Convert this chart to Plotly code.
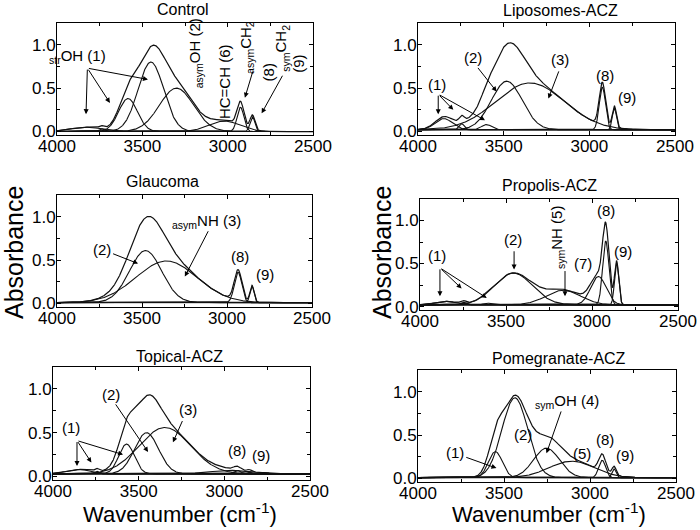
import numpy as np
import plotly.graph_objects as go

# ---------------- data (peak fits) ----------------
titles = ["Control", "Liposomes-ACZ", "Glaucoma", "Propolis-ACZ", "Topical-ACZ", "Pomegranate-ACZ"]

control_centers = [3830, 3740, 3584, 3450, 3300, 3020, 2925, 2855]
control_heights = [0.05, 0.03, 0.38, 0.80, 0.50, 0.12, 0.28, 0.17]
control_sigmas = [90, 15, 55, 75, 100, 90, 20, 14]

lipo_centers = [3850, 3745, 3600, 3482, 3346, 2924, 2854]
lipo_heights = [0.13, 0.07, 0.06, 0.56, 0.54, 0.49, 0.25]
lipo_sigmas = [50, 15, 30, 90, 200, 18, 12]

glau_centers = [3479, 3356, 2935, 2853]
glau_heights = [0.60, 0.48, 0.35, 0.19]
glau_sigmas = [95, 180, 22, 12]

prop_centers = [3850, 3750, 3610, 3457, 3167, 2963, 2920, 2857]
prop_heights = [0.04, 0.03, 0.02, 0.37, 0.17, 0.33, 0.74, 0.49]
prop_sigmas = [60, 15, 25, 110, 100, 45, 18, 12]

top_centers = [3850, 3745, 3571, 3454, 3347, 2960, 2925, 2855]
top_heights = [0.05, 0.03, 0.34, 0.47, 0.53, 0.04, 0.04, 0.02]
top_sigmas = [70, 12, 45, 70, 150, 120, 20, 12]

pome_centers = [3550, 3437, 3253, 3107, 2929, 2860]
pome_heights = [0.30, 0.92, 0.34, 0.19, 0.20, 0.10]
pome_sigmas = [40, 75, 75, 130, 20, 12]

baselines = [0.0, 0.02, 0.01, 0.02, 0.03, 0.01]

x_ticks = [4000, 3500, 3000, 2500]
y_ticks = [0.0, 0.5, 1.0]

panels = [
    (control_centers, control_heights, control_sigmas),
    (lipo_centers, lipo_heights, lipo_sigmas),
    (glau_centers, glau_heights, glau_sigmas),
    (prop_centers, prop_heights, prop_sigmas),
    (top_centers, top_heights, top_sigmas),
    (pome_centers, pome_heights, pome_sigmas),
]

# ---------------- layout geometry (pixels in 700x530) ----------------
W, H = 700, 530
boxes = [  # x0, x1, y_top, y_bottom
    (57, 313, 23, 135),
    (418, 675, 23, 135),
    (57, 312, 195, 307),
    (420, 678, 199, 310),
    (53, 310, 367, 480),
    (418, 676, 370, 482),
]

FONT = "Liberation Sans, Arial, sans-serif"
wn = np.linspace(4000, 2500, 1201)

fig = go.Figure()
layout = {}
for i, ((cs, hs, ss), base, box) in enumerate(zip(panels, baselines, boxes)):
    n = i + 1
    xa = "x" if n == 1 else f"x{n}"
    ya = "y" if n == 1 else f"y{n}"
    comps = [h * np.exp(-((wn - c) ** 2) / (2 * s ** 2)) for c, h, s in zip(cs, hs, ss)]
    total = base + np.sum(comps, axis=0)
    fig.add_trace(go.Scatter(x=wn, y=np.full_like(wn, base), mode="lines",
                             line=dict(color="black", width=1.0), xaxis=xa, yaxis=ya,
                             showlegend=False, hoverinfo="skip"))
    for comp in comps:
        fig.add_trace(go.Scatter(x=wn, y=base + comp, mode="lines",
                                 line=dict(color="#111111", width=1.1), xaxis=xa, yaxis=ya,
                                 showlegend=False))
    fig.add_trace(go.Scatter(x=wn, y=total, mode="lines",
                             line=dict(color="#111111", width=1.2), xaxis=xa, yaxis=ya,
                             showlegend=False))
    x0, x1, yt, yb = box
    axkey = "xaxis" if n == 1 else f"xaxis{n}"
    aykey = "yaxis" if n == 1 else f"yaxis{n}"
    layout[axkey] = dict(
        domain=[x0 / W, x1 / W], range=[4000, 2500], anchor=ya, automargin=False,
        tickvals=x_ticks, ticks="inside", ticklen=4, tickwidth=1, tickcolor="black",
        showline=True, linecolor="black", linewidth=1, mirror="ticks",
        showgrid=False, zeroline=False, ticklabelstandoff=-4,
        tickfont=dict(family=FONT, size=17, color="black"),
        minor=dict(ticks="inside", dtick=250, tick0=4000, ticklen=3, tickcolor="black", showgrid=False),
    )
    layout[aykey] = dict(
        domain=[1 - yb / H, 1 - yt / H], range=[-0.04, 1.25], anchor=xa, automargin=False,
        tickvals=y_ticks, ticktext=["0.0", "0.5", "1.0"], ticks="inside", ticklen=4,
        tickwidth=1, tickcolor="black", ticklabelstandoff=-3,
        showline=True, linecolor="black", linewidth=1, mirror="ticks",
        showgrid=False, zeroline=False,
        tickfont=dict(family=FONT, size=17, color="black"),
        minor=dict(ticks="inside", dtick=0.25, tick0=0, ticklen=3, tickcolor="black", showgrid=False),
    )

annotations = []
# panel titles
title_pos = [(183, 10), (560, 11), (162, 182), (549, 185), (180, 356), (559, 358)]
for t, (px, py) in zip(titles, title_pos):
    annotations.append(dict(text=t, x=px / W, y=1 - py / H, xref="paper", yref="paper",
                            showarrow=False, font=dict(family=FONT, size=16, color="black"),
                            xanchor="center", yanchor="middle"))
# axis titles
for px in (14, 382):
    annotations.append(dict(text="Absorbance", x=px / W, y=1 - 253 / H, xref="paper", yref="paper",
                            showarrow=False, textangle=-90,
                            font=dict(family=FONT, size=25, color="black"),
                            xanchor="center", yanchor="middle"))
for px in (180, 549):
    annotations.append(dict(text="Wavenumber (cm<sup>-1</sup>)", x=px / W, y=1 - 513 / H,
                            xref="paper", yref="paper", showarrow=False,
                            font=dict(family=FONT, size=22, color="black"),
                            xanchor="center", yanchor="middle"))

# labels: (panel, text, x, y, angle)
labels = [
    (1, "<sub>str</sub>OH (1)", 3880, 0.86, 0),
    (1, "<sub>asym</sub>OH (2)", 3192, 0.90, -90),
    (1, "HC=CH (6)", 3022, 0.58, -90),
    (1, "<sub>asym</sub>CH<sub>2</sub>", 2889, 0.97, -90),
    (1, "(8)", 2758, 0.68, -90),
    (1, "<sub>sym</sub>CH<sub>2</sub>", 2684, 0.96, -90),
    (1, "(9)", 2582, 0.78, -90),
    (2, "(1)", 3891, 0.54, 0),
    (2, "(2)", 3681, 0.85, 0),
    (2, "(3)", 3171, 0.83, 0),
    (2, "(8)", 2908, 0.64, 0),
    (2, "(9)", 2778, 0.39, 0),
    (3, "(2)", 3738, 0.62, 0),
    (3, "<sub>asym</sub>NH (3)", 3121, 0.94, 0),
    (3, "(8)", 2925, 0.54, 0),
    (3, "(9)", 2779, 0.34, 0),
    (4, "(1)", 3899, 0.59, 0),
    (4, "(2)", 3457, 0.78, 0),
    (4, "<sub>sym</sub>NH (5)", 3202, 0.80, -90),
    (4, "(7)", 3051, 0.50, 0),
    (4, "(8)", 2920, 1.12, 0),
    (4, "(9)", 2822, 0.64, 0),
    (5, "(1)", 3893, 0.56, 0),
    (5, "(2)", 3659, 0.94, 0),
    (5, "(3)", 3212, 0.76, 0),
    (5, "(8)", 2926, 0.30, 0),
    (5, "(9)", 2784, 0.24, 0),
    (6, "(1)", 3786, 0.30, 0),
    (6, "(2)", 3389, 0.51, 0),
    (6, "<sub>sym</sub>OH (4)", 3136, 0.89, 0),
    (6, "(5)", 3049, 0.29, 0),
    (6, "(8)", 2913, 0.45, 0),
    (6, "(9)", 2797, 0.27, 0),
]
for p, t, x, y, ang in labels:
    xr = "x" if p == 1 else f"x{p}"
    yr = "y" if p == 1 else f"y{p}"
    annotations.append(dict(text=t, x=x, y=y, xref=xr, yref=yr, showarrow=False,
                            textangle=ang, font=dict(family=FONT, size=15, color="black"),
                            xanchor="center", yanchor="middle"))

# arrows: (panel, tail_x, tail_y, head_x, head_y)
arrows = [
    (1, 3822, 0.73, 3830, 0.20), (1, 3822, 0.73, 3690, 0.33), (1, 3822, 0.73, 3467, 0.60),
    (1, 2850, 0.71, 2899, 0.39), (1, 2674, 0.66, 2801, 0.21),
    (2, 3882, 0.43, 3882, 0.20), (2, 3882, 0.43, 3794, 0.25), (2, 3882, 0.43, 3609, 0.13),
    (2, 3657, 0.75, 3541, 0.46), (2, 3175, 0.71, 3239, 0.38),
    (3, 3679, 0.58, 3523, 0.46), (3, 3106, 0.85, 3248, 0.31),
    (4, 3884, 0.45, 3884, 0.12), (4, 3884, 0.45, 3758, 0.21), (4, 3884, 0.45, 3612, 0.10),
    (4, 3453, 0.66, 3453, 0.43), (4, 3157, 0.43, 3157, 0.12),
    (5, 3860, 0.41, 3860, 0.12), (5, 3860, 0.41, 3776, 0.16), (5, 3860, 0.41, 3591, 0.25),
    (5, 3640, 0.84, 3445, 0.28), (5, 3241, 0.65, 3300, 0.39),
    (6, 3728, 0.25, 3544, 0.12), (6, 3165, 0.79, 3253, 0.29),
]
for p, tx, ty, hx, hy in arrows:
    xr = "x" if p == 1 else f"x{p}"
    yr = "y" if p == 1 else f"y{p}"
    annotations.append(dict(text="", x=hx, y=hy, ax=tx, ay=ty, xref=xr, yref=yr,
                            axref=xr, ayref=yr, showarrow=True, arrowhead=2,
                            arrowsize=1, arrowwidth=1, arrowcolor="black"))

fig.update_layout(**layout)
fig.update_layout(
    width=W, height=H, margin=dict(l=0, r=0, t=0, b=0),
    paper_bgcolor="white", plot_bgcolor="white",
    annotations=annotations, showlegend=False,
    font=dict(family=FONT, color="black"),
)
fig.write_html("out.html", config={"displayModeBar": False},
               post_script="document.body.style.margin='0px';document.body.style.overflow='hidden';")
